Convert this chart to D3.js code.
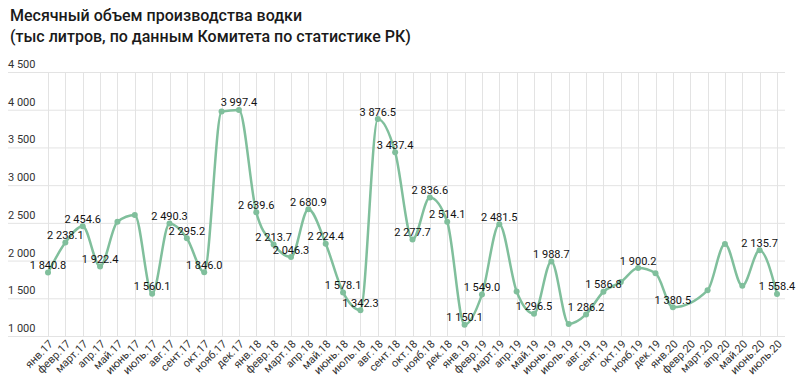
<!DOCTYPE html>
<html>
<head>
<meta charset="utf-8">
<script src="https://cdn.jsdelivr.net/npm/d3@7"></script>
<style>
  body { margin: 0; background: #fff; }
  svg { display: block; font-family: Roboto, "Noto Sans", sans-serif; }
</style>
</head>
<body>
<div id="chart"></div>
<script>
const months = ['янв.17', 'февр.17', 'март.17', 'апр.17', 'май.17', 'июнь.17', 'июль.17', 'авг.17', 'сент.17', 'окт.17', 'нояб.17', 'дек.17',
    'янв.18', 'февр.18', 'март.18', 'апр.18', 'май.18', 'июнь.18', 'июль.18', 'авг.18', 'сент.18', 'окт.18', 'нояб.18', 'дек.18',
    'янв.19', 'февр.19', 'март.19', 'апр.19', 'май.19', 'июнь.19', 'июль.19', 'авг.19', 'сент.19', 'окт.19', 'нояб.19', 'дек.19',
    'янв.20', 'февр.20', 'март.20', 'апр.20', 'май.20', 'июнь.20', 'июль.20'];

// тыс литров; null = no point shown for that month
const volumes = [1840.8, 2238.1, 2454.6, 1922.4, 2515, 2605, 1560.1, 2490.3, 2295.2, 1846.0, 3975, 3997.4,
    2639.6, 2213.7, 2046.3, 2680.9, 2224.4, 1578.1, 1342.3, 3876.5, 3437.4, 2277.7, 2836.6, 2514.1,
    1150.1, 1549.0, 2481.5, 1590, 1296.5, 1988.7, 1160, 1286.2, 1586.8, 1715, 1900.2, 1833,
    1380.5, null, 1605, 2220, 1665, 2135.7, 1558.4];

// which points carry a value label
const labelled = [1, 1, 1, 1, 0, 0, 1, 1, 1, 1, 0, 1,
    1, 1, 1, 1, 1, 1, 1, 1, 1, 1, 1, 1,
    1, 1, 1, 0, 1, 1, 0, 1, 1, 0, 1, 0,
    1, 0, 0, 0, 0, 1, 1];

const yTicks = [1000, 1500, 2000, 2500, 3000, 3500, 4000, 4500];
const titleLines = ['Месячный объем производства водки', '(тыс литров, по данным Комитета по статистике РК)'];

const width = 800, height = 382;
const lineColor = '#80bf9c';

const locale = d3.formatLocale({ decimal: '.', thousands: ' ', grouping: [3], currency: ['', ''] });
const fmtTick = locale.format(',');
const fmtValue = locale.format(',.1f');

const svg = d3.select('#chart').append('svg')
    .attr('width', width)
    .attr('height', height);

const x = d3.scalePoint()
    .domain(months)
    .range([48, 777]);

const y = d3.scaleLinear()
    .domain([1000, 4500])
    .range([336, 72]);

// title
svg.append('g')
    .selectAll('text')
    .data(titleLines)
    .enter()
    .append('text')
    .attr('x', 10)
    .attr('y', (d, i) => 21 + i * 21)
    .attr('font-size', 16)
    .attr('font-weight', 500)
    .attr('fill', '#1a1a1a')
    .text(d => d);

// horizontal grid + y labels
const yAxis = svg.append('g').attr('class', 'y-axis');
yAxis.selectAll('line')
    .data(yTicks)
    .enter()
    .append('line')
    .attr('x1', 8)
    .attr('x2', 785)
    .attr('y1', d => y(d) + 0.5)
    .attr('y2', d => y(d) + 0.5)
    .attr('stroke', '#e3e3e3')
    .attr('stroke-width', 1);

yAxis.selectAll('text')
    .data(yTicks)
    .enter()
    .append('text')
    .attr('x', 8)
    .attr('y', d => y(d) - 4)
    .attr('font-size', 11)
    .attr('fill', '#333')
    .text(d => fmtTick(d));

// vertical grid + x labels
const xAxis = svg.append('g').attr('class', 'x-axis');
xAxis.selectAll('line')
    .data(months)
    .enter()
    .append('line')
    .attr('x1', d => Math.round(x(d)) + 0.5)
    .attr('x2', d => Math.round(x(d)) + 0.5)
    .attr('y1', y(4500))
    .attr('y2', y(1000))
    .attr('stroke', '#e3e3e3')
    .attr('stroke-width', 1);

xAxis.selectAll('text')
    .data(months)
    .enter()
    .append('text')
    .attr('transform', d => `translate(${x(d) + 3},${y(1000) + 6}) rotate(-45)`)
    .attr('text-anchor', 'end')
    .attr('dy', '0.35em')
    .attr('font-size', 11)
    .attr('fill', '#333')
    .text(d => d);

// series
const points = months.map((m, i) => ({ month: m, value: volumes[i], label: labelled[i] }))
    .filter(d => d.value !== null);

const line = d3.line()
    .x(d => x(d.month))
    .y(d => y(d.value))
    .curve(d3.curveMonotoneX);

svg.append('path')
    .datum(points)
    .attr('d', line)
    .attr('fill', 'none')
    .attr('stroke', lineColor)
    .attr('stroke-width', 2.5)
    .attr('stroke-linejoin', 'round');

svg.append('g')
    .selectAll('circle')
    .data(points)
    .enter()
    .append('circle')
    .attr('cx', d => x(d.month))
    .attr('cy', d => y(d.value))
    .attr('r', 3)
    .attr('fill', lineColor);

svg.append('g')
    .selectAll('text')
    .data(points.filter(d => d.label))
    .enter()
    .append('text')
    .attr('x', d => x(d.month))
    .attr('y', d => y(d.value) - 3.5)
    .attr('text-anchor', 'middle')
    .attr('font-size', 11)
    .attr('fill', '#111')
    .text(d => fmtValue(d.value));
</script>
</body>
</html>
